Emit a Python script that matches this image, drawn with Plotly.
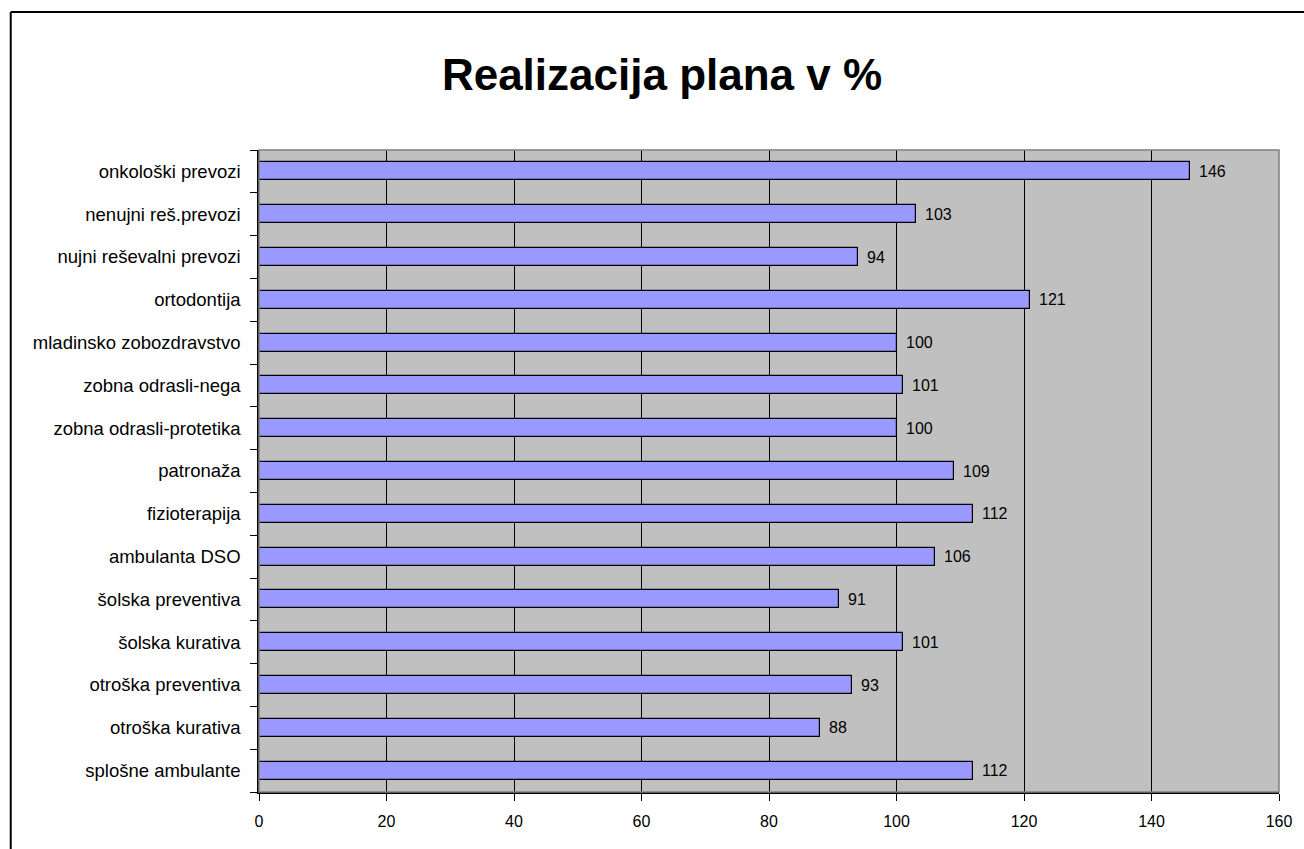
import plotly.graph_objects as go

# Categories listed bottom to top as they appear on the axis
categories = [
    "splošne ambulante",
    "otroška kurativa",
    "otroška preventiva",
    "šolska kurativa",
    "šolska preventiva",
    "ambulanta DSO",
    "fizioterapija",
    "patronaža",
    "zobna odrasli-protetika",
    "zobna odrasli-nega",
    "mladinsko zobozdravstvo",
    "ortodontija",
    "nujni reševalni prevozi",
    "nenujni reš.prevozi",
    "onkološki prevozi",
]
realizacija = [112, 88, 93, 101, 91, 106, 112, 109, 100, 101, 100, 121, 94, 103, 146]
x_ticks = [0, 20, 40, 60, 80, 100, 120, 140, 160]

W, H = 1304, 849
L, R, T, B = 259, 1282, 150, 792
FONT = "Liberation Sans, Arial, sans-serif"

positions = list(range(len(categories)))

fig = go.Figure(
    go.Bar(
        x=realizacija,
        y=positions,
        orientation="h",
        width=0.42,
        marker=dict(color="#9999FF", line=dict(color="#000000", width=1.2)),
        hoverinfo="skip",
    )
)

# value labels to the right of each bar
annotations = [
    dict(x=v, y=p, xref="x", yref="y", text=str(v), showarrow=False,
         xanchor="left", yanchor="middle", xshift=7,
         font=dict(family=FONT, size=16, color="#000000"))
    for v, p in zip(realizacija, positions)
]

def px_x(px):
    return (px - L) / (R - L)

def px_y(py):
    return (B - py) / (B - T)

shapes = [
    # plot area border (grey top/right)
    dict(type="rect", xref="paper", yref="paper", x0=0, x1=1, y0=0, y1=1,
         line=dict(color="#808080", width=1.5), layer="above"),
    # outer chart frame
    dict(type="line", xref="paper", yref="paper", x0=px_x(10), x1=px_x(10),
         y0=px_y(12), y1=px_y(H + 10), line=dict(color="#000000", width=2)),
    dict(type="line", xref="paper", yref="paper", x0=px_x(10), x1=px_x(W + 10),
         y0=px_y(12), y1=px_y(12), line=dict(color="#000000", width=2)),
]

fig.update_layout(
    width=W,
    height=H,
    margin=dict(l=L, r=W - R, t=T, b=H - B, pad=0),
    paper_bgcolor="#FFFFFF",
    plot_bgcolor="#C0C0C0",
    showlegend=False,
    bargap=0,
    font=dict(family=FONT, size=16, color="#000000"),
    title=dict(
        text="<b>Realizacija plana v %</b>",
        x=662 / W,
        xanchor="center",
        y=1 - 75 / H,
        yanchor="middle",
        font=dict(family=FONT, size=44, color="#000000"),
    ),
    xaxis=dict(
        range=[0, 160],
        tickvals=x_ticks,
        ticks="outside",
        ticklen=7,
        tickcolor="#000000",
        tickwidth=1,
        showline=True,
        linecolor="#000000",
        linewidth=1.5,
        showgrid=True,
        gridcolor="#000000",
        gridwidth=1,
        zeroline=False,
        tickfont=dict(family=FONT, size=16),
        ticklabelstandoff=7,
    ),
    yaxis=dict(
        range=[-0.5, len(categories) - 0.5],
        tickvals=positions,
        ticktext=categories,
        ticks="",
        showline=True,
        linecolor="#000000",
        linewidth=1.5,
        showgrid=False,
        zeroline=False,
        tickfont=dict(family=FONT, size=18.5),
        ticklabelstandoff=13,
        minor=dict(ticks="outside", tick0=-0.5, dtick=1, ticklen=7,
                   tickcolor="#000000", tickwidth=1, showgrid=False),
    ),
    shapes=shapes,
    annotations=annotations,
)

fig.write_html("out.html")
